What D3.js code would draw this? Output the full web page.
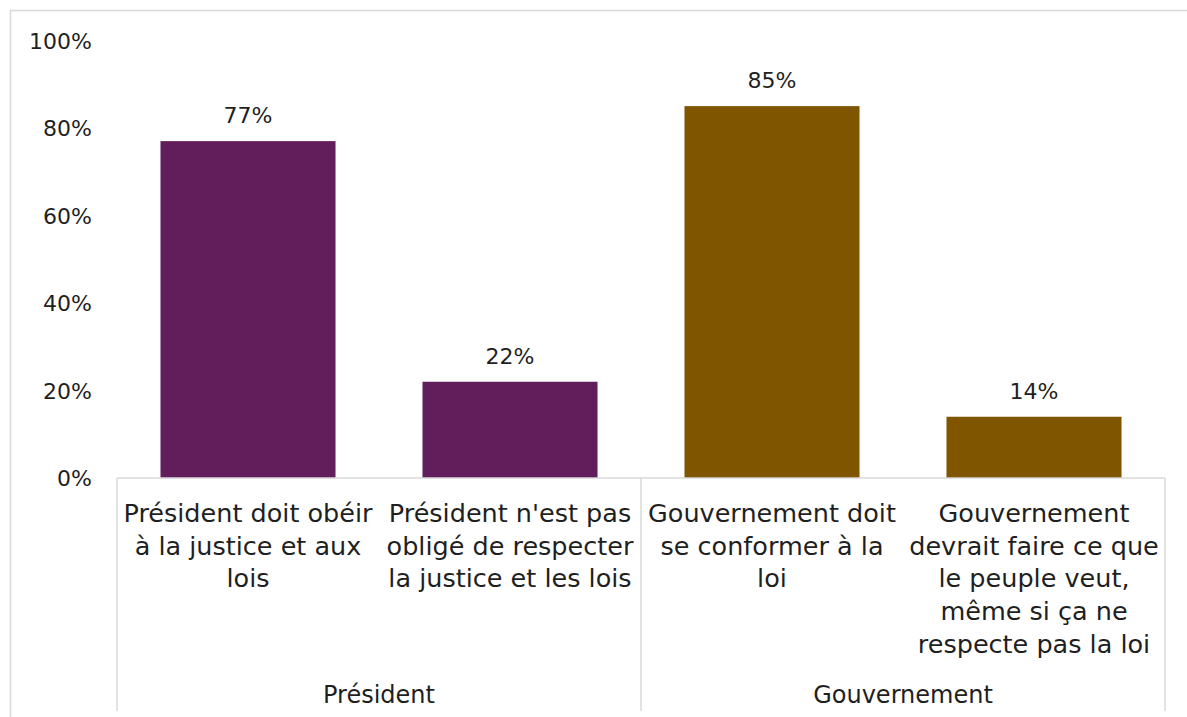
<!DOCTYPE html>
<html>
<head>
<meta charset="utf-8">
<script src="https://cdn.jsdelivr.net/npm/d3@7"></script>
<style>
  html, body { margin: 0; padding: 0; background: #fff; }
  svg { display: block; }
  text { font-family: "DejaVu Sans", sans-serif; fill: #1f1f1f; }
</style>
</head>
<body>
<svg id="chart" width="1187" height="717"></svg>
<script>
// Category labels, split into the lines they wrap to
const categories = [
  ["Président doit obéir", "à la justice et aux", "lois"],
  ["Président n'est pas", "obligé de respecter", "la justice et les lois"],
  ["Gouvernement doit", "se conformer à la", "loi"],
  ["Gouvernement", "devrait faire ce que", "le peuple veut,", "même si ça ne", "respecte pas la loi"]
];
const values = [77, 22, 85, 14];
const groupOf = [0, 0, 1, 1];
const groups = ["Président", "Gouvernement"];
const groupColors = ["#621d5b", "#7f5500"];
const yTicks = [0, 20, 40, 60, 80, 100];

const svg = d3.select("#chart");
const W = 1187, H = 717;
const left = 117, right = 1165, y0 = 478, yTop = 40.5;
const axisColor = "#d9d9d9";

// Outer frame
svg.append("rect")
  .attr("x", 10.5).attr("y", 10.5)
  .attr("width", W).attr("height", H)
  .attr("fill", "none").attr("stroke", axisColor).attr("stroke-width", 1.5);

const idx = d3.range(values.length);
const x = d3.scaleBand().domain(idx).range([left, right])
  .paddingInner(0.332).paddingOuter(0.166);
const y = d3.scaleLinear().domain([0, 100]).range([y0, yTop]);

// Y axis labels (no axis line, no gridlines)
const yAxis = d3.axisLeft(y).tickValues(yTicks).tickFormat(d => d + "%").tickSize(0).tickPadding(0);
const yg = svg.append("g").attr("transform", "translate(92,0)").call(yAxis);
yg.select(".domain").remove();
yg.selectAll("text")
  .attr("font-family", "DejaVu Sans, sans-serif")
  .attr("font-size", 22).attr("fill", "#1f1f1f")
  .attr("dy", "0.35em");

// Bars
svg.append("g").selectAll("rect").data(idx).join("rect")
  .attr("x", i => x(i))
  .attr("y", i => y(values[i]))
  .attr("width", x.bandwidth())
  .attr("height", i => y0 - y(values[i]))
  .attr("fill", i => groupColors[groupOf[i]]);

// Value labels
svg.append("g").selectAll("text").data(idx).join("text")
  .attr("x", i => x(i) + x.bandwidth() / 2)
  .attr("y", i => y(values[i]) - 18)
  .attr("text-anchor", "middle")
  .attr("font-size", 22)
  .text(i => values[i] + "%");

// Category axis line and group separators
svg.append("line")
  .attr("x1", left).attr("x2", right).attr("y1", y0).attr("y2", y0)
  .attr("stroke", axisColor).attr("stroke-width", 1.5);
const groupEdges = [left, x(2) - x.step() * x.paddingInner() / 2, right];
svg.append("g").selectAll("line").data(groupEdges).join("line")
  .attr("x1", d => d).attr("x2", d => d)
  .attr("y1", y0).attr("y2", 711)
  .attr("stroke", axisColor).attr("stroke-width", 1.5);

// Category labels
const catG = svg.append("g");
idx.forEach(i => {
  const t = catG.append("text")
    .attr("text-anchor", "middle")
    .attr("font-size", 25.5)
    .attr("x", x(i) + x.bandwidth() / 2)
    .attr("y", 522);
  categories[i].forEach((line, k) => {
    t.append("tspan")
      .attr("x", x(i) + x.bandwidth() / 2)
      .attr("dy", k === 0 ? 0 : 32.7)
      .text(line);
  });
});

// Group labels
svg.append("g").selectAll("text").data(groups).join("text")
  .attr("x", (g, j) => (groupEdges[j] + groupEdges[j + 1]) / 2)
  .attr("y", 703)
  .attr("text-anchor", "middle")
  .attr("font-size", 24)
  .text(g => g);
</script>
</body>
</html>
